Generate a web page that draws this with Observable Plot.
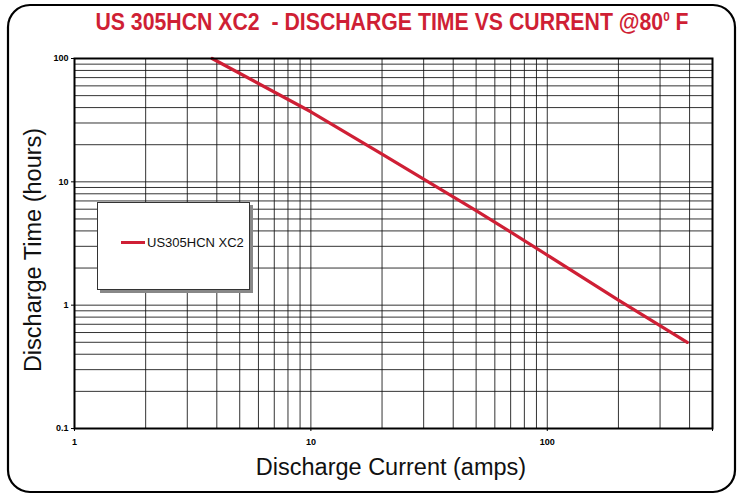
<!DOCTYPE html>
<html><head><meta charset="utf-8">
<script src="https://cdn.jsdelivr.net/npm/d3@7"></script>
<script src="https://cdn.jsdelivr.net/npm/@observablehq/plot@0.6"></script>
<style>
html,body{margin:0;padding:0;background:#fff;}
#chart{width:741px;height:497px;}
</style></head>
<body><div id="chart"></div>
<script>
const current = [3.82, 10, 20, 50, 100, 200, 391];
const hours   = [100, 37, 16.8, 5.85, 2.55, 1.1, 0.5];
const xGrid = [1,2,3,4,5,6,7,8,9,10,20,30,40,50,60,70,80,90,100,200,300,400,500];
const yGrid = [0.1,0.2,0.3,0.4,0.5,0.6,0.7,0.8,0.9,1,2,3,4,5,6,7,8,9,10,20,30,40,50,60,70,80,90,100];
const xTicks = [1, 10, 100, 500];
const yTicks = [0.1, 1, 10, 100];
const seriesName = "US305HCN XC2";
const title = "US 305HCN XC2  - DISCHARGE TIME VS CURRENT @80";

const data = current.map((c, i) => ({c, h: hours[i]}));
const red = "#cf1f35";

const W = 741, H = 497;
const mL = 74, mR = 29, mT = 58, mB = 69;

const chart = Plot.plot({
  width: W, height: H,
  marginLeft: mL, marginRight: mR, marginTop: mT, marginBottom: mB,
  style: {fontFamily: "Liberation Sans, Arial, sans-serif", background: "white"},
  x: {type: "log", domain: [1, 500], label: null},
  y: {type: "log", domain: [0.1, 100], label: null},
  marks: [
    Plot.ruleX(xGrid, {stroke: "#111", strokeWidth: 1, strokeOpacity: 0.85}),
    Plot.ruleY(yGrid, {stroke: "#111", strokeWidth: 1, strokeOpacity: 0.85}),
    Plot.line(data, {x: "c", y: "h", stroke: red, strokeWidth: 3.2}),
    Plot.frame({stroke: "#000", strokeWidth: 2}),
    Plot.axisX({ticks: xTicks, tickFormat: d => String(d), tickSize: 3, fontWeight: "bold", fontSize: 9, tickPadding: 7}),
    Plot.axisY({ticks: yTicks, tickFormat: d => String(d), tickSize: 3, fontWeight: "bold", fontSize: 9, tickPadding: 3})
  ]
});

document.getElementById("chart").appendChild(chart);
const svg = d3.select(chart);

// outer rounded border
svg.append("rect").attr("x", 8).attr("y", 5).attr("width", 727).attr("height", 487)
  .attr("rx", 22).attr("ry", 22).attr("fill", "none").attr("stroke", "#000").attr("stroke-width", 2.2);

// title
const t = svg.append("text").attr("transform", "translate(392,30) scale(0.905,1)").attr("text-anchor", "middle")
  .attr("fill", red).attr("font-family", "Liberation Sans, Arial, sans-serif")
  .attr("font-weight", "bold").attr("font-size", 23.5);
t.append("tspan").text(title);
t.append("tspan").attr("font-size", 13).attr("dy", -9).text("0");
t.append("tspan").attr("dy", 9).text(" F");

// axis titles
svg.append("text").attr("x", 391).attr("y", 475).attr("text-anchor", "middle")
  .attr("font-family", "Liberation Sans, Arial, sans-serif").attr("font-size", 23.5).attr("fill", "#111")
  .text("Discharge Current (amps)");
svg.append("text").attr("transform", `translate(41,250) rotate(-90)`).attr("text-anchor", "middle")
  .attr("font-family", "Liberation Sans, Arial, sans-serif").attr("font-size", 23.5).attr("fill", "#111")
  .text("Discharge Time (hours)");

// legend box
svg.append("rect").attr("x", 100).attr("y", 205).attr("width", 153).attr("height", 88).attr("fill", "#888");
svg.append("rect").attr("x", 97.5).attr("y", 202.5).attr("width", 152).attr("height", 87)
  .attr("fill", "white").attr("stroke", "#333").attr("stroke-width", 1);
svg.append("line").attr("x1", 121).attr("x2", 145).attr("y1", 242.5).attr("y2", 242.5)
  .attr("stroke", red).attr("stroke-width", 3);
svg.append("text").attr("x", 147).attr("y", 247).attr("text-anchor", "start")
  .attr("font-family", "Liberation Sans, Arial, sans-serif")
  .attr("font-size", 13).attr("fill", "#111").text(seriesName);
</script></body></html>
